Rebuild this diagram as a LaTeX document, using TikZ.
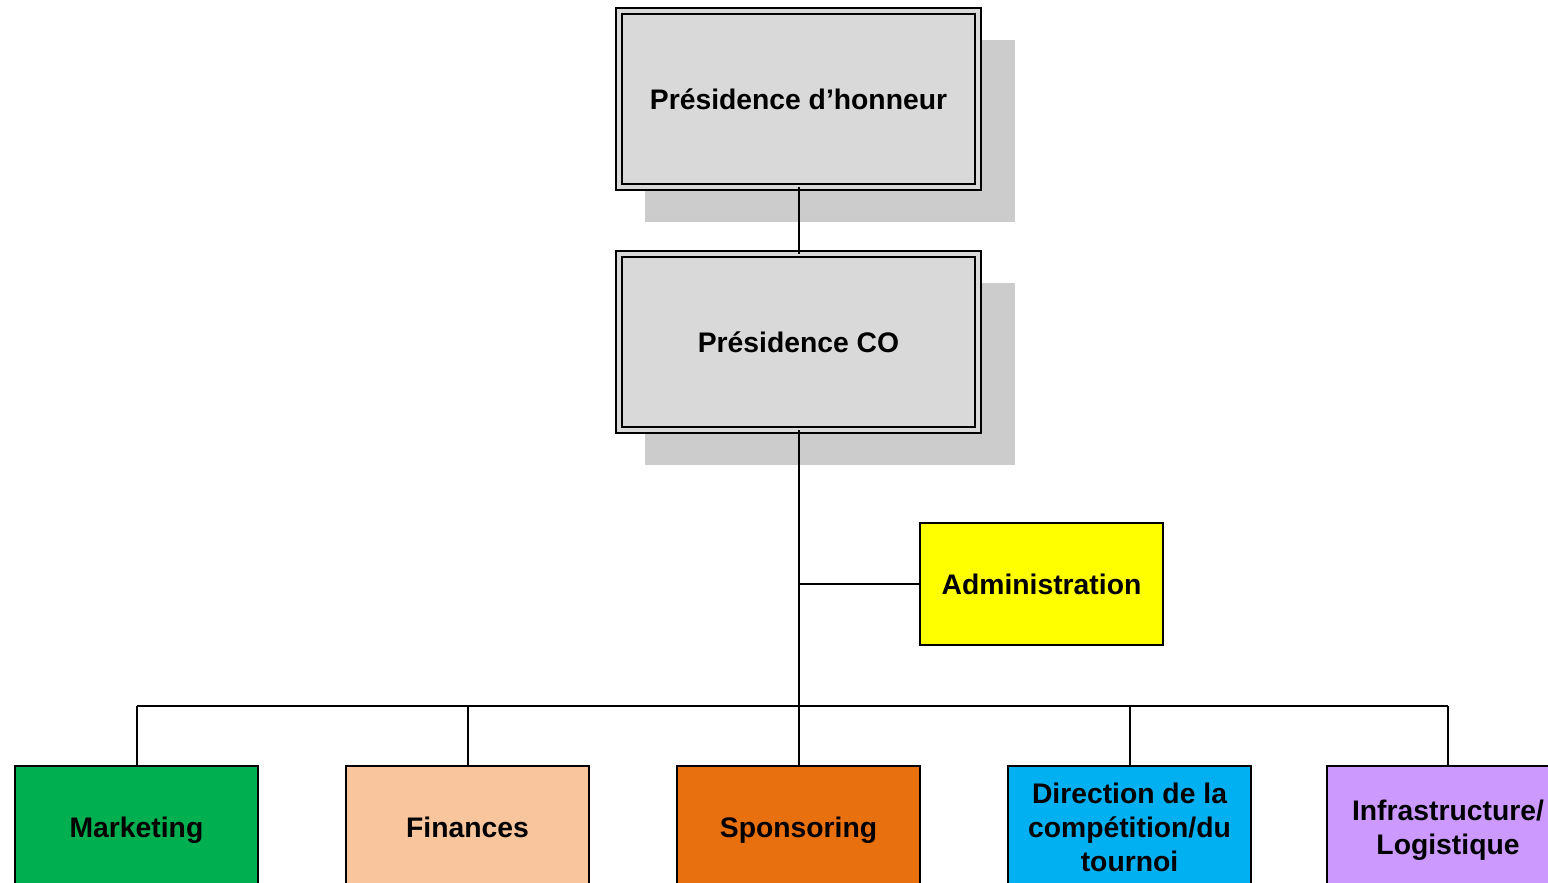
\documentclass[tikz,border=0pt]{standalone}
\usepackage{fontspec}
\setmainfont{Liberation Sans}
\usepackage{xcolor}
\usepackage{tikz}
\usetikzlibrary{shadows}
\definecolor{boxgray}{HTML}{D9D9D9}
\definecolor{shadowgray}{HTML}{CCCCCC}
\definecolor{mktgreen}{HTML}{00B050}
\definecolor{finpeach}{HTML}{F8C59C}
\definecolor{sponorange}{HTML}{E9700F}
\definecolor{dircyan}{HTML}{00B0F0}
\definecolor{infpurple}{HTML}{CC99FF}
\definecolor{admyellow}{HTML}{FFFF00}
\tikzset{
  lab/.style={font=\fontsize{28.3}{34}\selectfont\bfseries, align=center, text=black, text depth=0pt},
  head/.style={lab, fill=boxgray, draw=black, line width=2pt, double=boxgray, double distance=4pt,
    minimum width=359pt, minimum height=176pt, inner sep=0pt, outer sep=0pt,
    drop shadow={shadow xshift=30.5pt, shadow yshift=-31pt, shadow scale=1.03, fill=shadowgray, opacity=1}},
  unit/.style={lab, draw=black, line width=2pt, minimum width=243pt, minimum height=122pt,
    inner sep=0pt, outer sep=0pt},
  link/.style={draw=black, line width=2pt},
}
\begin{document}
\begin{tikzpicture}[x=1pt,y=-1pt]
\useasboundingbox (0,0) rectangle (1548,883);
\clip (0,0) rectangle (1548,883);

\node[head] (hon) at (798.5,99) {Présidence d’honneur};
\node[head] (pco) at (798.5,342) {Présidence CO};

\node[unit, fill=admyellow] (adm) at (1041.5,584) {Administration};

\coordinate (bus) at (798.5,706);

% bottom row of units
\node[unit, fill=mktgreen]   (mkt) at (136.5,827)  {Marketing};
\node[unit, fill=finpeach]   (fin) at (467.5,827)  {Finances};
\node[unit, fill=sponorange] (spo) at (798.5,827)  {Sponsoring};
\node[unit, fill=dircyan]    (dir) at (1129.5,827) {Direction de la\\compétition/du\\tournoi};
\node[unit, fill=infpurple]  (inf) at (1448,827)   {Infrastructure/\\Logistique};

\draw[link] (hon.south) -- (pco.north);
\draw[link] (pco.south) -- (bus);
\draw[link] (pco.south |- adm.west) -- (adm.west);
\draw[link] (bus -| mkt.north) -- (bus -| inf.north);
\foreach \u in {mkt,fin,spo,dir,inf}
  \draw[link] (bus -| \u.north) -- (\u.north);
\end{tikzpicture}
\end{document}
